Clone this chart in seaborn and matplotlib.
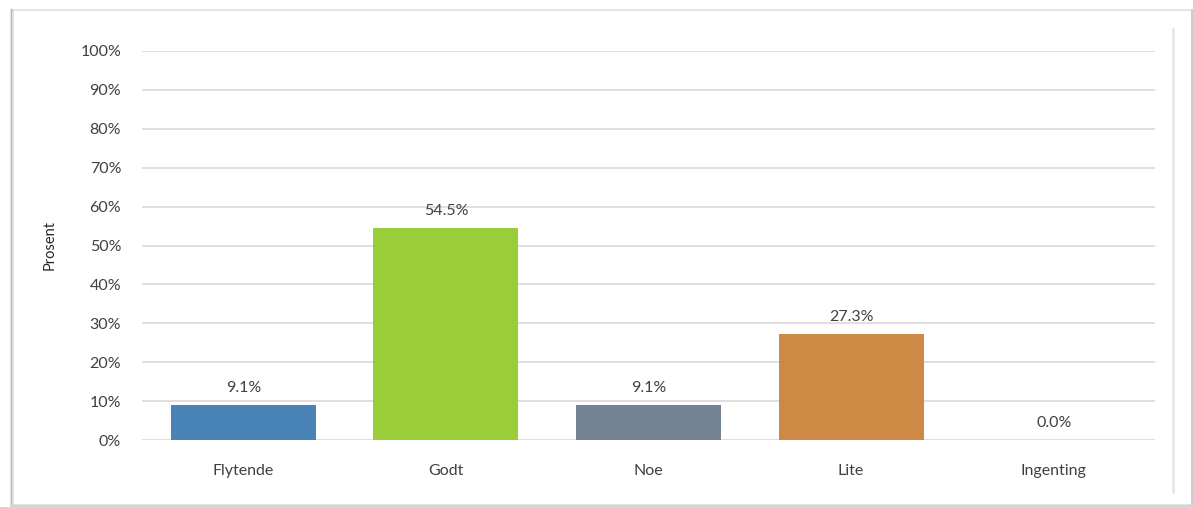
import matplotlib
matplotlib.use("Agg")
import matplotlib.pyplot as plt
from matplotlib.patches import Rectangle
from matplotlib.lines import Line2D
import seaborn as sns
import pandas as pd

categories = ["Flytende", "Godt", "Noe", "Lite", "Ingenting"]
values = [9.1, 54.5, 9.1, 27.3, 0.0]
colors = ["#4A84B6", "#9ACD3A", "#748393", "#CE8944", "#9E4B4B"]
y_ticks = [0, 10, 20, 30, 40, 50, 60, 70, 80, 90, 100]
y_label = "Prosent"

df = pd.DataFrame({"kategori": categories, "andel": values})

sns.set_theme(style="white")
plt.rcParams["font.family"] = ["Lato", "DejaVu Sans"]

W, H = 1193, 507
fig = plt.figure(figsize=(W / 100, H / 100), dpi=100)
ax = fig.add_axes([142 / W, 1 - 440 / H, (1155 - 142) / W, (440 - 51) / H])

sns.barplot(data=df, x="kategori", y="andel", hue="kategori",
            palette=colors, legend=False, width=0.716, ax=ax,
            saturation=1, linewidth=0)

ax.set_ylim(0, 100)
ax.set_xlim(-0.5, len(categories) - 0.5)
ax.set_yticks(y_ticks)
ax.set_yticklabels([f"{t}%" for t in y_ticks], fontsize=11.5, color="#404040")
ax.tick_params(axis="y", length=0, pad=15)
ax.tick_params(axis="x", length=0, pad=17, labelsize=11.5, labelcolor="#404040")
ax.set_xlabel("")
ax.set_ylabel(y_label, fontsize=10.5, color="#262626", labelpad=17)
ax.yaxis.grid(True, color="#D9D9D9", linewidth=1.2)
ax.set_axisbelow(True)
for s in ax.spines.values():
    s.set_visible(False)

for i, v in enumerate(values):
    ax.annotate(f"{v:.1f}%", (i, v), xytext=(0, 7), textcoords="offset points",
                ha="center", va="bottom", fontsize=11.5, color="#404040")

# card frame: faint top/right edges, darker shadowed left edge
fx = lambda x: x / W
fy = lambda y: 1 - y / H
fig.patches.append(Rectangle((fx(11), fy(505)), fx(1192) - fx(11), fy(10) - fy(505),
                             transform=fig.transFigure, facecolor="none",
                             edgecolor="#E4E4E4", linewidth=1.5, zorder=1))
fig.lines.append(Line2D([fx(11.5), fx(11.5)], [fy(505), fy(10)],
                        transform=fig.transFigure, color="#B8B8B8", linewidth=1.5))
fig.lines.append(Line2D([fx(13), fx(13)], [fy(505), fy(12)],
                        transform=fig.transFigure, color="#E0E0E0", linewidth=1.5))
fig.lines.append(Line2D([fx(1191.5), fx(1191.5)], [fy(505), fy(10)],
                        transform=fig.transFigure, color="#C8C8C8", linewidth=1.2))
fig.lines.append(Line2D([fx(11), fx(1192)], [fy(505.5), fy(505.5)],
                        transform=fig.transFigure, color="#CFCFCF", linewidth=1.2))
fig.lines.append(Line2D([fx(1173), fx(1173)], [fy(492), fy(29)],
                        transform=fig.transFigure, color="#E6E6E6", linewidth=2))

fig.savefig("out.png", dpi=100)
